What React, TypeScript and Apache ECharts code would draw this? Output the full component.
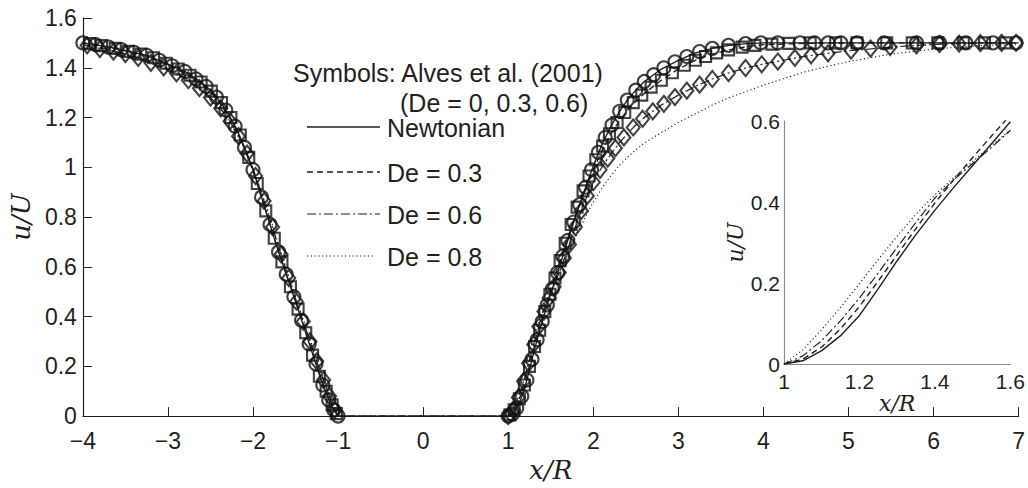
import { useEffect, useRef } from 'react';
import * as echarts from 'echarts';

// ---------- data ----------
// simulated profiles, shared x positions
const lineX = [
  -4, -3.75, -3.5, -3.25, -3, -2.8, -2.6, -2.5, -2.4, -2.3, -2.2, -2.1, -2, -1.9, -1.8, -1.7, -1.6, -1.5, -1.4, -1.3, -1.2, -1.1, -1.05, -1,
  1, 1.05, 1.1, 1.15, 1.2, 1.25, 1.3, 1.35, 1.4, 1.45, 1.5, 1.55, 1.6,
  1.7, 1.8, 1.9, 2, 2.1, 2.2, 2.3, 2.4, 2.5, 2.6,
  2.8, 3, 3.2, 3.4, 3.6, 3.8, 4,
  4.5, 5, 5.5, 6, 6.5, 7,
];
const newtonianY = [
  1.5, 1.487, 1.47, 1.45, 1.415, 1.385, 1.34, 1.31, 1.27, 1.22, 1.16, 1.08, 0.99, 0.88, 0.77, 0.66, 0.56, 0.46, 0.355, 0.25, 0.145, 0.06, 0.025, 0,
  0, 0.008, 0.033, 0.07, 0.12, 0.186, 0.255, 0.32, 0.38, 0.436, 0.49, 0.544, 0.598,
  0.706, 0.81, 0.91, 1.005, 1.09, 1.16, 1.22, 1.27, 1.31, 1.345,
  1.395, 1.43, 1.46, 1.478, 1.49, 1.497, 1.5,
  1.5, 1.5, 1.5, 1.5, 1.5, 1.5,
];
const de03Y = [
  1.5, 1.486, 1.468, 1.447, 1.41, 1.378, 1.333, 1.302, 1.262, 1.212, 1.152, 1.075, 0.985, 0.878, 0.77, 0.662, 0.563, 0.465, 0.362, 0.258, 0.152, 0.066, 0.028, 0,
  0, 0.012, 0.042, 0.087, 0.142, 0.205, 0.27, 0.335, 0.398, 0.455, 0.51, 0.563, 0.615,
  0.718, 0.815, 0.905, 0.99, 1.065, 1.13, 1.183, 1.228, 1.265, 1.297,
  1.35, 1.395, 1.43, 1.455, 1.472, 1.485, 1.493,
  1.498, 1.5, 1.5, 1.5, 1.5, 1.5,
];
const de06Y = [
  1.493, 1.478, 1.455, 1.43, 1.395, 1.36, 1.31, 1.28, 1.245, 1.2, 1.145, 1.08, 0.995, 0.895, 0.79, 0.68, 0.575, 0.47, 0.37, 0.27, 0.17, 0.08, 0.035, 0,
  0, 0.02, 0.058, 0.107, 0.163, 0.225, 0.288, 0.35, 0.41, 0.455, 0.495, 0.535, 0.577,
  0.672, 0.772, 0.862, 0.94, 1.0, 1.05, 1.095, 1.135, 1.17, 1.2,
  1.25, 1.29, 1.325, 1.355, 1.38, 1.4, 1.415,
  1.447, 1.468, 1.483, 1.494, 1.499, 1.5,
];
const de08Y = [
  1.49, 1.475, 1.452, 1.425, 1.39, 1.355, 1.305, 1.275, 1.24, 1.195, 1.14, 1.075, 0.995, 0.9, 0.8, 0.69, 0.585, 0.48, 0.38, 0.28, 0.18, 0.09, 0.045, 0,
  0, 0.035, 0.085, 0.14, 0.198, 0.258, 0.316, 0.37, 0.418, 0.46, 0.5, 0.54, 0.578,
  0.65, 0.725, 0.795, 0.86, 0.915, 0.963, 1.005, 1.04, 1.07, 1.097,
  1.14, 1.18, 1.215, 1.25, 1.28, 1.305, 1.33,
  1.385, 1.425, 1.455, 1.475, 1.488, 1.495,
];

// Alves et al. (2001) symbols
const circleX = [
  -4, -3.85, -3.7, -3.55, -3.4, -3.25, -3.1, -2.95, -2.8, -2.67, -2.55, -2.43, -2.32, -2.21, -2.1, -2, -1.9, -1.8, -1.7, -1.61, -1.52, -1.43, -1.34, -1.26, -1.18, -1.11, -1.05, -1,
  1, 1.05, 1.1, 1.16, 1.22, 1.28, 1.34, 1.4, 1.46, 1.52, 1.58, 1.64, 1.7, 1.77, 1.84, 1.91, 1.98, 2.06, 2.14, 2.22, 2.31, 2.4, 2.5, 2.6, 2.71, 2.83, 2.96, 3.1, 3.25, 3.4, 3.59, 3.79, 3.97, 4.17, 4.43, 4.6, 4.76, 4.91, 5.1, 5.42, 5.8, 6.07, 6.38, 6.7, 6.97,
];
const circleY = [
  1.5, 1.493, 1.483, 1.473, 1.462, 1.45, 1.43, 1.408, 1.385, 1.355, 1.325, 1.282, 1.23, 1.165, 1.08, 0.99, 0.88, 0.77, 0.66, 0.57, 0.48, 0.385, 0.29, 0.21, 0.125, 0.065, 0.025, 0,
  0, 0.008, 0.033, 0.08, 0.145, 0.228, 0.307, 0.38, 0.447, 0.512, 0.576, 0.642, 0.706, 0.78, 0.85, 0.92, 0.99, 1.06, 1.12, 1.17, 1.225, 1.27, 1.31, 1.345, 1.372, 1.4, 1.424, 1.445, 1.465, 1.478, 1.49, 1.497, 1.5, 1.5, 1.5, 1.5, 1.5, 1.5, 1.5, 1.5, 1.5, 1.5, 1.5, 1.5, 1.5,
];
const squareX = [
  -3.92, -3.78, -3.62, -3.47, -3.32, -3.17, -3.02, -2.88, -2.74, -2.61, -2.49, -2.37, -2.26, -2.15, -2.05, -1.95, -1.85, -1.75, -1.66, -1.56, -1.47, -1.38, -1.3, -1.22, -1.14, -1.07, -1.02,
  1.02, 1.07, 1.13, 1.19, 1.25, 1.31, 1.37, 1.43, 1.49, 1.55, 1.61, 1.67, 1.74, 1.81, 1.88, 1.95, 2.03, 2.11, 2.19, 2.28, 2.37, 2.47, 2.57, 2.68, 2.8, 2.93, 3.07, 3.2, 3.32, 3.45, 3.59, 3.75, 3.9, 4.1, 4.3, 4.55, 4.85, 5.1, 5.45, 5.75, 6.05, 6.35, 6.6, 6.85,
];
const squareY = [
  1.497, 1.489, 1.478, 1.466, 1.455, 1.44, 1.418, 1.395, 1.37, 1.343, 1.306, 1.26, 1.2, 1.13, 1.04, 0.935, 0.825, 0.715, 0.62, 0.52, 0.43, 0.335, 0.245, 0.16, 0.1, 0.045, 0.01,
  0.005, 0.025, 0.07, 0.125, 0.2, 0.28, 0.345, 0.42, 0.49, 0.555, 0.625, 0.695, 0.77, 0.84, 0.905, 0.965, 1.03, 1.085, 1.135, 1.18, 1.22, 1.26, 1.29, 1.322, 1.35, 1.38, 1.41, 1.43, 1.445, 1.46, 1.472, 1.483, 1.49, 1.495, 1.498, 1.5, 1.5, 1.5, 1.5, 1.5, 1.5, 1.5, 1.5, 1.5,
];
const diamondX = [
  -3.95, -3.8, -3.64, -3.5, -3.35, -3.2, -3.05, -2.9, -2.76, -2.63, -2.5, -2.38, -2.27, -2.17, -2.07, -1.97, -1.87, -1.77, -1.67, -1.58, -1.49, -1.41, -1.33, -1.25, -1.17, -1.1, -1.04,
  1, 1.06, 1.12, 1.18, 1.24, 1.3, 1.36, 1.42, 1.48, 1.54, 1.6, 1.66, 1.72, 1.79, 1.86, 1.93, 2, 2.08, 2.17, 2.26, 2.36, 2.47, 2.58, 2.7, 2.83, 2.96, 3.1, 3.25, 3.4, 3.59, 3.79, 3.98, 4.17, 4.37, 4.56, 4.76, 5.03, 5.26, 5.49, 5.8, 6.07, 6.3, 6.55, 6.8, 6.97,
];
const diamondY = [
  1.49, 1.475, 1.465, 1.455, 1.44, 1.42, 1.402, 1.378, 1.35, 1.318, 1.28, 1.237, 1.185, 1.125, 1.055, 0.965, 0.865, 0.76, 0.65, 0.555, 0.46, 0.38, 0.3, 0.22, 0.145, 0.08, 0.025,
  0, 0.025, 0.075, 0.14, 0.212, 0.288, 0.36, 0.42, 0.475, 0.52, 0.577, 0.635, 0.69, 0.76, 0.825, 0.885, 0.94, 0.99, 1.035, 1.077, 1.12, 1.16, 1.195, 1.225, 1.255, 1.282, 1.308, 1.332, 1.355, 1.379, 1.399, 1.414, 1.425, 1.44, 1.45, 1.458, 1.469, 1.477, 1.483, 1.49, 1.495, 1.497, 1.499, 1.5, 1.5,
];

const legendTitle = ['Symbols: Alves et al. (2001)', '(De = 0, 0.3, 0.6)'];
const legendNames = ['Newtonian', 'De = 0.3', 'De = 0.6', 'De = 0.8'];

// ---------- styling ----------
const ink = '#231f20';
const sans = '"Liberation Sans", Arial, Helvetica, sans-serif';
const serif = '"DejaVu Serif", "Liberation Serif", serif';
const dashes: (number[] | 'solid')[] = ['solid', [6, 4], [9, 3, 2, 3], [1.2, 2.6]];
const lineWidths = [1.4, 1.4, 1.2, 1.1];

const pairs = (xs: number[], ys: number[]) => xs.map((x, i) => [x, ys[i]]);
const insetPairs = (xs: number[], ys: number[]) => pairs(xs, ys).filter((p) => p[0] >= 1 && p[0] <= 1.6);

export default function App() {
  const ref = useRef<HTMLDivElement>(null);

  useEffect(() => {
    if (!ref.current) return;
    const chart = echarts.init(ref.current, null, { renderer: 'svg' });
    const ys = [newtonianY, de03Y, de06Y, de08Y];

    const lineSeries: any[] = [];
    ys.forEach((y, i) => {
      lineSeries.push({
        type: 'line',
        name: legendNames[i],
        xAxisIndex: 0,
        yAxisIndex: 0,
        data: pairs(lineX, y),
        showSymbol: false,
        symbol: 'none',
        smooth: false,
        lineStyle: { color: ink, width: lineWidths[i], type: dashes[i], join: 'round' },
        z: 3,
        silent: true,
      });
      lineSeries.push({
        type: 'line',
        name: legendNames[i] + ' (inset)',
        xAxisIndex: 1,
        yAxisIndex: 1,
        data: insetPairs(lineX, y),
        showSymbol: false,
        symbol: 'none',
        smooth: false,
        lineStyle: { color: ink, width: lineWidths[i], type: dashes[i], join: 'round' },
        z: 3,
        silent: true,
      });
    });

    const markerStyle = { color: 'rgba(255,255,255,0)', borderColor: '#141212', borderWidth: 2.1 };
    const scatterSeries = [
      { name: 'De = 0 (Alves)', symbol: 'circle', symbolSize: 13, data: pairs(circleX, circleY) },
      { name: 'De = 0.3 (Alves)', symbol: 'rect', symbolSize: 11, data: pairs(squareX, squareY) },
      { name: 'De = 0.6 (Alves)', symbol: 'diamond', symbolSize: [13, 16], data: pairs(diamondX, diamondY) },
    ].map((s) => ({
      type: 'scatter',
      xAxisIndex: 0,
      yAxisIndex: 0,
      itemStyle: markerStyle,
      clip: false,
      silent: true,
      z: 4,
      ...s,
    }));

    const legendY = [127, 172, 214, 256];
    const graphic: any[] = [
      {
        type: 'text',
        x: 293,
        y: 73,
        style: { text: legendTitle[0], fontSize: 25, fontFamily: sans, fill: ink, verticalAlign: 'middle' },
      },
      {
        type: 'text',
        x: 400,
        y: 103,
        style: { text: legendTitle[1], fontSize: 25, fontFamily: sans, fill: ink, verticalAlign: 'middle' },
      },
    ];
    legendNames.forEach((n, i) => {
      graphic.push({
        type: 'line',
        shape: { x1: 307, y1: legendY[i], x2: i === 3 ? 374 : 380, y2: legendY[i] },
        style: {
          stroke: ink,
          lineWidth: lineWidths[i],
          lineDash: dashes[i] === 'solid' ? null : dashes[i],
        },
      });
      graphic.push({
        type: 'text',
        x: 387,
        y: legendY[i] + 1,
        style: { text: n, fontSize: 25, fontFamily: sans, fill: ink, verticalAlign: 'middle' },
      });
    });

    const mainLabel = { color: ink, fontSize: 23, fontFamily: sans };
    const insetLabel = { color: ink, fontSize: 21, fontFamily: sans };
    const nameStyle = (size: number) => ({ fontFamily: serif, fontStyle: 'italic', fontSize: size, color: ink });

    chart.setOption({
      animation: false,
      backgroundColor: '#ffffff',
      grid: [
        { left: 78, right: 4, top: 18, bottom: 62 },
        { left: 784, right: 17, top: 121, bottom: 124 },
      ],
      xAxis: [
        {
          type: 'value',
          gridIndex: 0,
          min: -4,
          max: 7,
          interval: 1,
          axisLine: { show: true, onZero: false, lineStyle: { color: ink, width: 1.2 } },
          axisTick: { show: true, inside: true, length: 9, lineStyle: { color: ink, width: 1 } },
          axisLabel: { ...mainLabel, margin: 13, formatter: (v: number) => String(v).replace('-', '\u2212') },
          splitLine: { show: false },
          name: 'x/R',
          nameLocation: 'middle',
          nameGap: 31,
          nameTextStyle: nameStyle(26),
        },
        {
          type: 'value',
          gridIndex: 1,
          min: 1,
          max: 1.6,
          interval: 0.2,
          axisLine: { show: true, onZero: false, lineStyle: { color: '#8a8a8a', width: 1.2 } },
          axisTick: { show: false },
          axisLabel: { ...insetLabel, margin: 7 },
          splitLine: { show: false },
          name: 'x/R',
          nameLocation: 'middle',
          nameGap: 22,
          nameTextStyle: nameStyle(22),
        },
      ],
      yAxis: [
        {
          type: 'value',
          gridIndex: 0,
          min: 0,
          max: 1.6,
          interval: 0.2,
          axisLine: { show: true, onZero: false, lineStyle: { color: ink, width: 1.2 } },
          axisTick: { show: true, inside: true, length: 9, lineStyle: { color: ink, width: 1 } },
          axisLabel: { ...mainLabel, margin: 6 },
          splitLine: { show: false },
          name: 'u/U',
          nameLocation: 'middle',
          nameGap: 46,
          nameTextStyle: nameStyle(26),
        },
        {
          type: 'value',
          gridIndex: 1,
          min: 0,
          max: 0.6,
          interval: 0.2,
          axisLine: { show: true, onZero: false, lineStyle: { color: '#8a8a8a', width: 1.2 } },
          axisTick: { show: false },
          axisLabel: { ...insetLabel, margin: 4 },
          splitLine: { show: false },
          name: 'u/U',
          nameLocation: 'middle',
          nameGap: 32,
          nameTextStyle: nameStyle(22),
        },
      ],
      graphic,
      series: [...lineSeries, ...scatterSeries],
    });

    return () => chart.dispose();
  }, []);

  return (
    <div
      ref={ref}
      style={{ position: 'fixed', left: 0, top: 0, width: 1028, height: 488, background: '#ffffff' }}
    />
  );
}
